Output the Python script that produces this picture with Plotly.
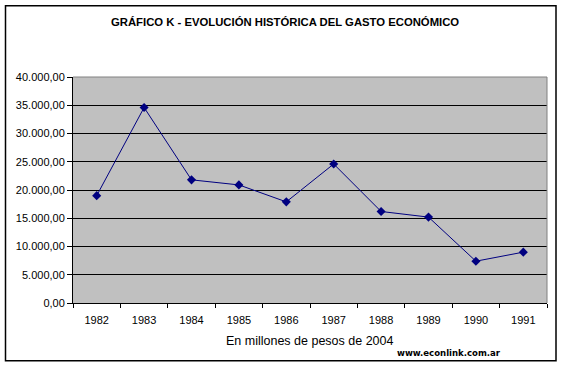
import plotly.graph_objects as go

years = ["1982", "1983", "1984", "1985", "1986", "1987", "1988", "1989", "1990", "1991"]
gasto = [19000, 34600, 21800, 20900, 17900, 24600, 16200, 15200, 7400, 9000]
y_ticks = [0, 5000, 10000, 15000, 20000, 25000, 30000, 35000, 40000]

title_text = "GRÁFICO K - EVOLUCIÓN HISTÓRICA DEL GASTO ECONÓMICO"
x_title = "En millones de pesos de 2004"
watermark = "www.econlink.com.ar"

W, H = 564, 370
L, R, T, B = 73, 547, 77, 303.5

def px(x):
    return (x - L) / (R - L)

def py(y):
    return (B - y) / (B - T)

fig = go.Figure()
fig.add_trace(go.Scatter(
    x=years, y=gasto, mode="lines+markers",
    line=dict(color="#000080", width=1),
    marker=dict(symbol="diamond", size=7, color="#000080"),
    showlegend=False, hoverinfo="skip",
))

font = "Liberation Sans, Arial, sans-serif"

fig.update_layout(
    width=W, height=H,
    margin=dict(l=L, r=W - R, t=T, b=H - B, pad=0),
    paper_bgcolor="white",
    plot_bgcolor="#C0C0C0",
    separators=",.",
    font=dict(family=font, size=11, color="black"),
    xaxis=dict(
        type="category", range=[-0.5, 9.5],
        showgrid=False, zeroline=False,
        showline=True, linecolor="black", linewidth=1,
        ticks="outside", tickson="boundaries", ticklen=4, tickcolor="black",
        ticklabelstandoff=7,
        tickfont=dict(family=font, size=11, color="black"),
        mirror=False,
    ),
    yaxis=dict(
        range=[0, 40000], tickvals=y_ticks, tickformat=",.2f",
        showgrid=True, gridcolor="black", gridwidth=1,
        zeroline=False,
        showline=True, linecolor="black", linewidth=1,
        ticks="outside", ticklen=5, tickcolor="black",
        tickfont=dict(family=font, size=11, color="black"),
    ),
    shapes=[
        dict(type="line", xref="paper", yref="paper", x0=0, x1=1, y0=1, y1=1,
             line=dict(color="#808080", width=1)),
        dict(type="line", xref="paper", yref="paper", x0=1, x1=1, y0=0, y1=1,
             line=dict(color="#808080", width=1)),
        dict(type="rect", xref="paper", yref="paper",
             x0=px(5.5), x1=px(556), y0=py(361.5), y1=py(5.5),
             line=dict(color="black", width=1.5)),
    ],
    annotations=[
        dict(text="<b>" + title_text + "</b>", xref="paper", yref="paper",
             x=px(285), y=py(22), xanchor="center", yanchor="middle",
             showarrow=False, font=dict(family=font, size=11.3, color="black")),
        dict(text=x_title, xref="paper", yref="paper",
             x=px(310), y=py(342), xanchor="center", yanchor="middle",
             showarrow=False, font=dict(family=font, size=12.5, color="black")),
        dict(text="<b>" + watermark + "</b>", xref="paper", yref="paper",
             x=px(449), y=py(353), xanchor="center", yanchor="middle",
             showarrow=False, font=dict(family="DejaVu Sans Condensed, DejaVu Sans, sans-serif", size=9.5, color="black")),
    ],
)

fig.write_html("out.html", config={"displayModeBar": False},
               post_script="document.body.style.margin='0';document.body.style.overflow='hidden';")
